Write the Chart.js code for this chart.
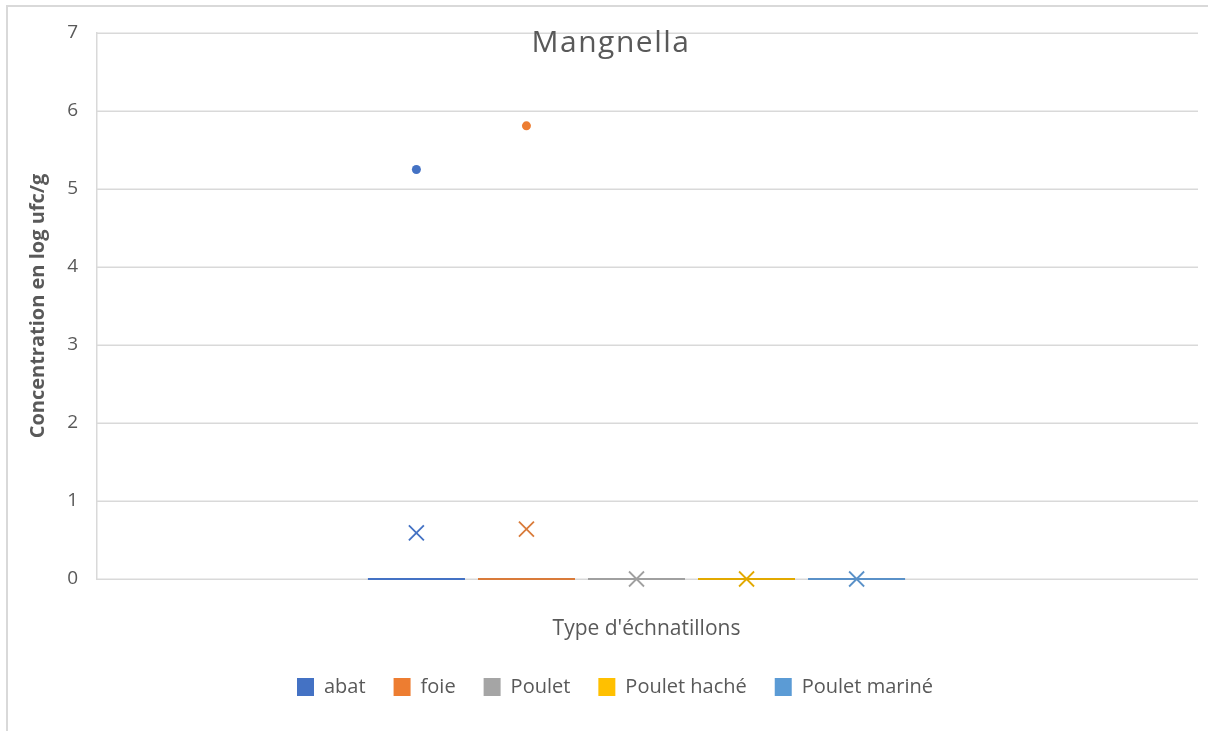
<!DOCTYPE html>
<html>
<head>
<meta charset="utf-8">
<script src="https://cdn.jsdelivr.net/npm/chart.js@4.4.1/dist/chart.umd.min.js"></script>
<style>
  html, body { margin: 0; padding: 0; background: #ffffff; }
  #wrap { width: 1208px; height: 731px; }
</style>
</head>
<body>
<div id="wrap"><canvas id="chart" width="1208" height="731"></canvas></div>
<script>
// Sample types (one box per type)
const categories = ['abat', 'foie', 'Poulet', 'Poulet haché', 'Poulet mariné'];
// Box statistics per sample type (log ufc/g)
const whiskerMin = [0, 0, 0, 0, 0];
const q1Values = [0, 0, 0, 0, 0];
const medianValues = [0, 0, 0, 0, 0];
const q3Values = [0, 0, 0, 0, 0];
const whiskerMax = [0, 0, 0, 0, 0];
const meanValues = [0.59, 0.64, 0, 0, 0];
const outlierValues = [[5.25], [5.81], [], [], []];
// Y axis ticks
const yTicks = [0, 1, 2, 3, 4, 5, 6, 7];
const seriesColors = ['#4472C4', '#ED7D31', '#A5A5A5', '#FFC000', '#5B9BD5'];
const lineColors = ['#4472C4', '#D97B3A', '#A0A0A0', '#E2A900', '#5A91C8'];

const textColor = '#595959';
const gridColor = '#D9D9D9';
const fontFamily = '"Open Sans", "Noto Sans", sans-serif';
const gridOverhang = 22;   // horizontal gridlines run past the box area on the right
const legendShift = 27;    // legend sits a little right of the canvas centre
const xTitleShift = 10;    // x axis title sits a little right of the box group centre

// Chart frame and background
const framePlugin = {
  id: 'frame',
  beforeDraw(chart) {
    const ctx = chart.ctx;
    ctx.save();
    ctx.fillStyle = '#ffffff';
    ctx.fillRect(0, 0, chart.width, chart.height);
    ctx.strokeStyle = '#D9D9D9';
    ctx.lineWidth = 2;
    ctx.beginPath();
    ctx.moveTo(7, chart.height);
    ctx.lineTo(7, 6);
    ctx.lineTo(chart.width, 6);
    ctx.stroke();
    ctx.restore();
  }
};

// Nudges legend and x title after the layout pass
const placementPlugin = {
  id: 'placement',
  afterLayout(chart) {
    if (chart.legend) {
      chart.legend.left += legendShift;
      chart.legend.right += legendShift;
    }
    const x = chart.scales.x;
    x.left += xTitleShift;
    x.right += xTitleShift;
  }
};

// Horizontal gridlines at every y tick
const gridPlugin = {
  id: 'hgrid',
  beforeDatasetsDraw(chart) {
    const ctx = chart.ctx;
    const y = chart.scales.y;
    const area = chart.chartArea;
    ctx.save();
    ctx.strokeStyle = gridColor;
    ctx.lineWidth = 1.5;
    y.ticks.forEach(t => {
      const py = Math.round(y.getPixelForValue(t.value)) + 0.25;
      ctx.beginPath();
      ctx.moveTo(area.left, py);
      ctx.lineTo(area.right + gridOverhang, py);
      ctx.stroke();
    });
    ctx.restore();
  }
};

// Box-and-whisker drawing on top of each bar slot
const boxPlotPlugin = {
  id: 'boxplot',
  afterDatasetsDraw(chart) {
    const ctx = chart.ctx;
    const y = chart.scales.y;
    chart.data.datasets.forEach((ds, i) => {
      const meta = chart.getDatasetMeta(i);
      if (!meta.visible) return;
      const el = meta.data[0];
      if (!el) return;
      const cx = el.x;
      const half = el.width / 2;
      const col = lineColors[i];
      ctx.save();
      ctx.strokeStyle = col;
      ctx.fillStyle = seriesColors[i];
      ctx.lineWidth = 2;
      // whiskers
      ctx.beginPath();
      ctx.moveTo(cx, y.getPixelForValue(q3Values[i]));
      ctx.lineTo(cx, y.getPixelForValue(whiskerMax[i]));
      ctx.moveTo(cx, y.getPixelForValue(q1Values[i]));
      ctx.lineTo(cx, y.getPixelForValue(whiskerMin[i]));
      ctx.stroke();
      // box
      const yTop = y.getPixelForValue(q3Values[i]);
      const yBot = y.getPixelForValue(q1Values[i]);
      ctx.fillRect(cx - half, yTop, half * 2, yBot - yTop);
      ctx.strokeRect(cx - half, yTop, half * 2, yBot - yTop);
      // median
      const ym = y.getPixelForValue(medianValues[i]);
      ctx.beginPath();
      ctx.moveTo(cx - half, ym);
      ctx.lineTo(cx + half, ym);
      ctx.stroke();
      // mean marker (X)
      const yMean = y.getPixelForValue(meanValues[i]);
      const s = 7.5;
      ctx.lineWidth = 1.8;
      ctx.beginPath();
      ctx.moveTo(cx - s, yMean - s);
      ctx.lineTo(cx + s, yMean + s);
      ctx.moveTo(cx + s, yMean - s);
      ctx.lineTo(cx - s, yMean + s);
      ctx.stroke();
      // outliers
      outlierValues[i].forEach(v => {
        ctx.beginPath();
        ctx.arc(cx, y.getPixelForValue(v), 4.5, 0, Math.PI * 2);
        ctx.fillStyle = seriesColors[i];
        ctx.fill();
      });
      ctx.restore();
    });
  }
};

// Title drawn over the top of the plot area
const titlePlugin = {
  id: 'overlayTitle',
  afterDraw(chart) {
    const ctx = chart.ctx;
    ctx.save();
    ctx.font = '30px ' + fontFamily;
    ctx.letterSpacing = '1.5px';
    ctx.fillStyle = textColor;
    ctx.textAlign = 'center';
    ctx.textBaseline = 'middle';
    ctx.fillText('Mangnella', 611, 43);
    ctx.restore();
  }
};

const datasets = categories.map((name, i) => ({
  label: name,
  data: [[q1Values[i], q3Values[i]]],
  backgroundColor: seriesColors[i],
  borderColor: lineColors[i],
  borderWidth: 0,
  categoryPercentage: 0.51,
  barPercentage: 0.88
}));

new Chart(document.getElementById('chart'), {
  type: 'bar',
  data: { labels: [''], datasets },
  plugins: [framePlugin, placementPlugin, gridPlugin, boxPlotPlugin, titlePlugin],
  options: {
    responsive: false,
    animation: false,
    devicePixelRatio: 1,
    layout: { padding: { top: 33, left: 0, right: 10 + gridOverhang, bottom: 24 } },
    plugins: {
      legend: {
        position: 'bottom',
        labels: {
          color: textColor,
          font: { family: fontFamily, size: 20 },
          boxWidth: 17,
          boxHeight: 18,
          padding: 28
        }
      },
      tooltip: { enabled: false },
      title: { display: false }
    },
    scales: {
      x: {
        grid: { display: false },
        border: { display: false },
        ticks: { display: false },
        title: {
          display: true,
          text: "Type d'échnatillons",
          color: textColor,
          font: { family: fontFamily, size: 21 },
          padding: { top: 0, bottom: 7 }
        },
        afterFit(scale) { scale.height = 70; }
      },
      y: {
        min: 0,
        max: 7,
        afterBuildTicks(scale) { scale.ticks = yTicks.map(v => ({ value: v })); },
        grid: { display: false, drawTicks: false },
        border: { display: true, color: gridColor, width: 1.5 },
        ticks: {
          color: textColor,
          font: { family: fontFamily, size: 19 },
          padding: 19
        },
        title: {
          display: true,
          text: 'Concentration en log ufc/g',
          color: textColor,
          font: { family: fontFamily, size: 20, weight: 'bold' },
          padding: { top: 26, bottom: 0 }
        },
        afterFit(scale) { scale.width = 97; }
      }
    }
  }
});
</script>
</body>
</html>
